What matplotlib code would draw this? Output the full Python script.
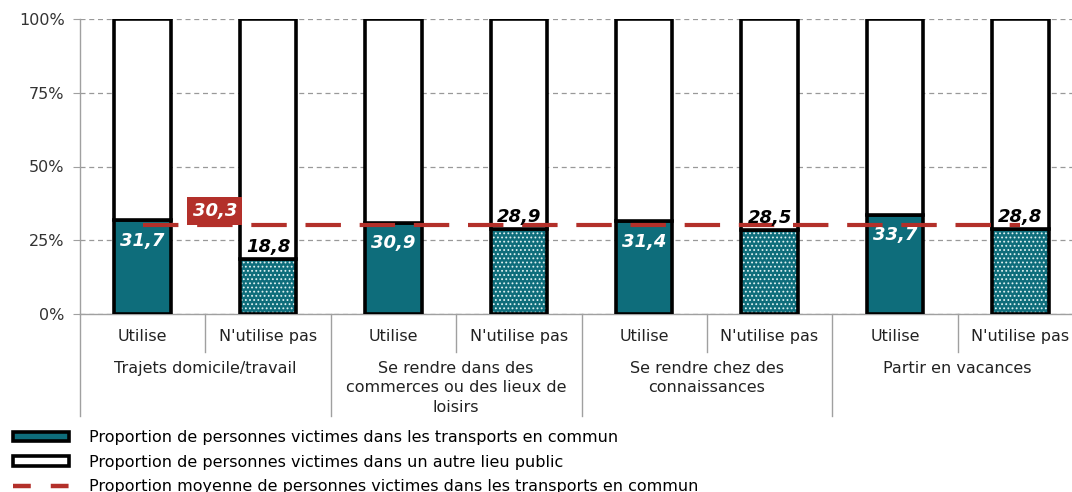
import matplotlib
matplotlib.use("Agg")
import matplotlib.pyplot as plt
import matplotlib.transforms as mtransforms
from matplotlib.patches import Patch
from matplotlib.lines import Line2D

# ---- data ----
groups = ["Trajets domicile/travail",
          "Se rendre dans des\ncommerces ou des lieux de\nloisirs",
          "Se rendre chez des\nconnaissances",
          "Partir en vacances"]
subcats = ["Utilise", "N'utilise pas"]
utilise = [31.7, 30.9, 31.4, 33.7]
nutilise = [18.8, 28.9, 28.5, 28.8]
mean_value = 30.3
yticks = [0, 25, 50, 75, 100]
ytick_labels = ["0%", "25%", "50%", "75%", "100%"]
legend_labels = ["Proportion de personnes victimes dans les transports en commun",
                 "Proportion de personnes victimes dans un autre lieu public",
                 "Proportion moyenne de personnes victimes dans les transports en commun"]

TEAL = "#0e6d7b"
RED = "#b3302a"
GRAY = "#a0a0a0"

plt.rcParams['font.family'] = ['DejaVu Sans']

fig = plt.figure(figsize=(10.72, 4.92), dpi=100)
ax = fig.add_axes([80/1072, 1-314/492, (1083-80)/1072, 295/492])

n = len(groups)
xs_u = [2*i for i in range(n)]
xs_n = [2*i+1 for i in range(n)]
w = 0.45
lw = 2.6

# grid
ax.set_ylim(0, 100)
ax.set_xlim(-0.5, 2*n-0.5)
ax.set_yticks(yticks)
ax.set_yticklabels(ytick_labels, fontsize=11.5, color="#333333")
ax.yaxis.grid(True, color="#999999", linestyle=(0, (4, 3)), linewidth=0.9)
ax.set_axisbelow(True)
for s in ["top", "right"]:
    ax.spines[s].set_visible(False)
for s in ["left", "bottom"]:
    ax.spines[s].set_color(GRAY)
    ax.spines[s].set_linewidth(1)
ax.tick_params(axis='y', length=5, color=GRAY, pad=6)
ax.set_xticks([])

# bars: Utilise
ax.bar(xs_u, utilise, width=w, color=TEAL, edgecolor="black", linewidth=lw, zorder=3)
ax.bar(xs_u, [100-v for v in utilise], bottom=utilise, width=w, color="white",
       edgecolor="black", linewidth=lw, zorder=3)
# bars: N'utilise pas (dotted)
plt.rcParams['hatch.linewidth'] = 0.8
ax.bar(xs_n, nutilise, width=w, color=TEAL, edgecolor="#dff2f2", hatch="....",
       linewidth=0, zorder=3)
ax.bar(xs_n, nutilise, width=w, fill=False, edgecolor="black", linewidth=lw, zorder=3)
ax.bar(xs_n, [100-v for v in nutilise], bottom=nutilise, width=w, color="white",
       edgecolor="black", linewidth=lw, zorder=3)

# mean line
ax.hlines(mean_value, xs_u[0], xs_n[-1], colors=RED, linewidth=3.0,
          linestyles=(0, (8.5, 4.5)), zorder=4)
ax.text(xs_u[0] + 0.575, mean_value + 4.6, f"{mean_value:.1f}".replace(".", ","),
        ha="center", va="center", color="white", fontsize=13, fontweight="bold",
        style="italic", zorder=6,
        bbox=dict(boxstyle="square,pad=0.3", facecolor=RED, edgecolor="none"))

# value labels
for x, v in zip(xs_u, utilise):
    ax.text(x, v - 3.8, f"{v:.1f}".replace(".", ","), ha="center", va="top",
            color="white", fontsize=13, fontweight="bold", style="italic", zorder=5)
for x, v in zip(xs_n, nutilise):
    ax.text(x, v + 1.0, f"{v:.1f}".replace(".", ","), ha="center", va="bottom",
            color="black", fontsize=13, fontweight="bold", style="italic", zorder=5)

# category axis
trans = mtransforms.blended_transform_factory(ax.transData, ax.transAxes)
for i, g in enumerate(groups):
    for j, sc in enumerate(subcats):
        ax.text(2*i + j, -0.075, sc, transform=trans, ha="center", va="center",
                fontsize=11.5, color="#222222")
    ax.text(2*i + 0.5, -0.158, g, transform=trans, ha="center", va="top",
            fontsize=11.5, color="#222222", linespacing=1.4)
    ax.plot([2*i + 0.5, 2*i + 0.5], [0, -0.13], transform=trans, color=GRAY,
            linewidth=1, clip_on=False)
for k in range(n + 1):
    ax.plot([2*k - 0.5, 2*k - 0.5], [0, -0.345], transform=trans, color=GRAY,
            linewidth=1, clip_on=False)

# legend
handles = [Patch(facecolor=TEAL, edgecolor="black", linewidth=2.6),
           Patch(facecolor="white", edgecolor="black", linewidth=2.6),
           Line2D([0], [0], color=RED, linewidth=3.2, linestyle=(0, (4, 4.5)))]
fig.legend(handles, legend_labels, loc="upper left",
           bbox_to_anchor=(13/1072, 1-430/492), frameon=False, fontsize=11.5,
           handlelength=3.5, handleheight=0.55, handletextpad=1.25,
           labelspacing=0.6, borderpad=0, borderaxespad=0)

fig.savefig("out.png", dpi=100)
